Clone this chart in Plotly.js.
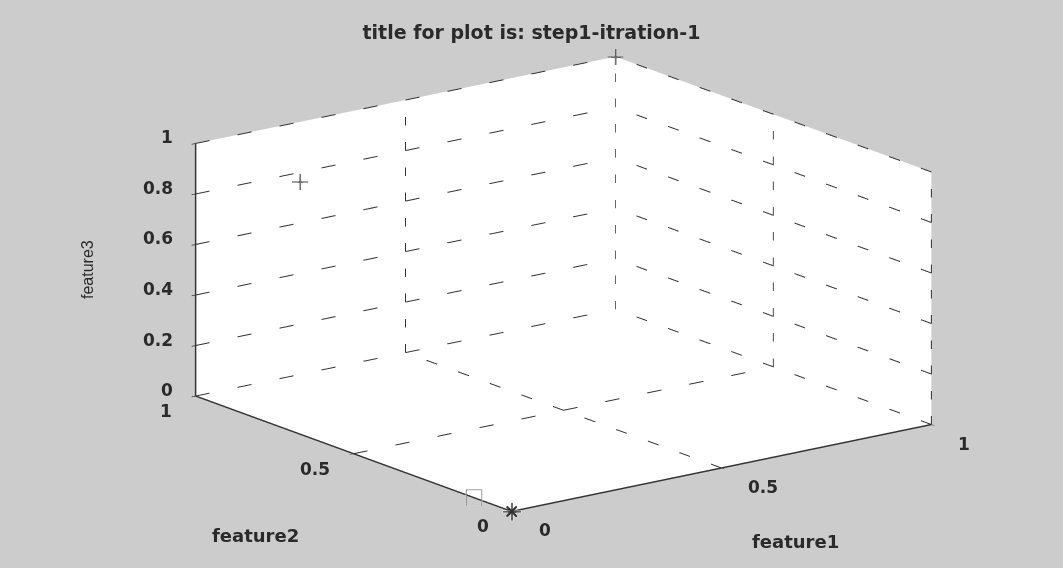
<!DOCTYPE html>
<html>
<head>
<meta charset="utf-8">
<script src="https://cdn.plot.ly/plotly-3.0.1.min.js"></script>
<style>html,body{margin:0;padding:0;background:#cccccc;}#chart{width:1063px;height:568px;}#err{position:absolute;left:5px;top:5px;font-size:12px;color:red;z-index:10}</style>
</head>
<body>
<div id="err"></div>
<div id="chart"></div>
<script>
window.onerror = function (m) { document.getElementById('err').textContent += ' ' + m; };
// Data points (feature1, feature2, feature3)
const feature1 = [0, 0, 0, 1];
const feature2 = [0, 0.12, 0.67, 1];
const feature3 = [0, 0, 1, 1];
const symbols = ['cross', 'square-open', 'cross', 'cross'];
const sizes = [20, 14, 18, 18];
// the first point is an asterisk: add a small 'x' on top of its cross
const starF1 = [0];
const starF2 = [0];
const starF3 = [0];

const xTicks = [0, 0.5, 1];
const yTicks = [0, 0.5, 1];
const zTicks = [0, 0.2, 0.4, 0.6, 0.8, 1];
const xTickText = ['0', '0.5', '1'];
const yTickText = ['0', '0.5', '1'];
const zTickText = ['0', '0.2', '0.4', '0.6', '0.8', '1'];

const titleText = 'title for plot is: step1-itration-1';
const xTitle = 'feature1', yTitle = 'feature2', zTitle = 'feature3';

const FONT = 'DejaVu Sans, Verdana, sans-serif';
const TXT = '#2a2a2a';

// dashed grid lines on the back walls and floor, built from the tick arrays
const gridSegs = [];
function seg(a, b) { gridSegs.push([a, b]); }
xTicks.forEach(v => seg([v, 0, 0], [v, 1, 0]));
yTicks.forEach(v => seg([0, v, 0], [1, v, 0]));
xTicks.forEach(v => seg([v, 1, 0], [v, 1, 1]));
zTicks.forEach(v => seg([0, 1, v], [1, 1, v]));
yTicks.forEach(v => seg([1, v, 0], [1, v, 1]));
zTicks.forEach(v => seg([1, 0, v], [1, 1, v]));

function buildTraces(useDash) {
  const t = gridSegs.map(s => ({
    type: 'scatter3d', mode: 'lines',
    x: [s[0][0], s[1][0]], y: [s[0][1], s[1][1]], z: [s[0][2], s[1][2]],
    line: useDash ? {color: '#333333', width: 2, dash: 'longdash'} : {color: '#777777', width: 1.5},
    hoverinfo: 'skip', showlegend: false
  }));
  t.push({type: 'scatter3d', mode: 'markers', x: feature1, y: feature2, z: feature3,
    marker: {symbol: symbols, size: sizes, color: '#333333'}, showlegend: false});
  t.push({type: 'scatter3d', mode: 'markers', x: starF1, y: starF2, z: starF3,
    marker: {symbol: 'x', size: 2.5, color: '#333333'}, showlegend: false});
  return t;
}

const axisBase = {
  showgrid: false, zeroline: false, showline: true, linecolor: '#333333', linewidth: 3,
  showbackground: true, backgroundcolor: '#ffffff', showspikes: false,
  ticks: 'outside', ticklen: 5, tickcolor: '#333333', tickwidth: 1.5,
  showticklabels: false, title: {text: ''}
};

const tickFont = {family: FONT, size: 17, color: TXT, weight: 'bold'};
const sceneAnn = [];
xTicks.forEach((v, i) => sceneAnn.push({x: v, y: 0, z: 0, text: xTickText[i], showarrow: false,
  xanchor: 'left', yanchor: 'middle', xshift: 25, yshift: -19, font: tickFont}));
yTicks.forEach((v, i) => sceneAnn.push({x: 0, y: v, z: 0, text: yTickText[i], showarrow: false,
  xanchor: 'right', yanchor: 'middle', xshift: -21, yshift: -15, font: tickFont}));
zTicks.forEach((v, i) => sceneAnn.push({x: 0, y: 1, z: v, text: zTickText[i], showarrow: false,
  xanchor: 'right', yanchor: 'middle', xshift: -20, yshift: 6, font: tickFont}));

const layout = {
  width: 1063, height: 568,
  paper_bgcolor: '#cccccc',
  margin: {l: 0, r: 0, t: 0, b: 0},
  title: {text: titleText, x: 0.5, xanchor: 'center', y: 0.943, yanchor: 'middle',
    font: {family: FONT, size: 19, color: TXT, weight: 'bold'}},
  scene: {
    domain: {x: [0.06, 1.0], y: [0, 1]},
    aspectmode: 'manual', aspectratio: {x: 1.85, y: 1.85, z: 0.925},
    camera: {eye: {x: -2.5, y: -3.32, z: 1.188}, center: {x: 0, y: 0, z: 0},
      up: {x: 0, y: 0, z: 1}, projection: {type: 'orthographic'}},
    xaxis: Object.assign({}, axisBase, {range: [0, 1], tickvals: xTicks}),
    yaxis: Object.assign({}, axisBase, {range: [0, 1], tickvals: yTicks}),
    zaxis: Object.assign({}, axisBase, {range: [0, 1], tickvals: zTicks}),
    bgcolor: '#cccccc',
    annotations: sceneAnn
  },
  annotations: [
    {text: xTitle, xref: 'paper', yref: 'paper', x: 0.748, y: 0.046, xanchor: 'center', yanchor: 'middle',
     showarrow: false, font: {family: FONT, size: 18, color: TXT, weight: 'bold'}},
    {text: yTitle, xref: 'paper', yref: 'paper', x: 0.24, y: 0.058, xanchor: 'center', yanchor: 'middle',
     showarrow: false, font: {family: FONT, size: 18, color: TXT, weight: 'bold'}},
    {text: zTitle, xref: 'paper', yref: 'paper', x: 0.083, y: 0.525, xanchor: 'center', yanchor: 'middle',
     showarrow: false, textangle: -90,
     font: {family: 'Liberation Sans Narrow, Arial Narrow, sans-serif', size: 16, color: TXT}}
  ]
};

const cfg = {displayModeBar: false};
Plotly.newPlot('chart', buildTraces(true), layout, cfg).catch(e => {
  document.getElementById('err').textContent += ' ' + e;
  Plotly.purge('chart');
  Plotly.newPlot('chart', buildTraces(false), layout, cfg);
});
</script>
</body>
</html>
